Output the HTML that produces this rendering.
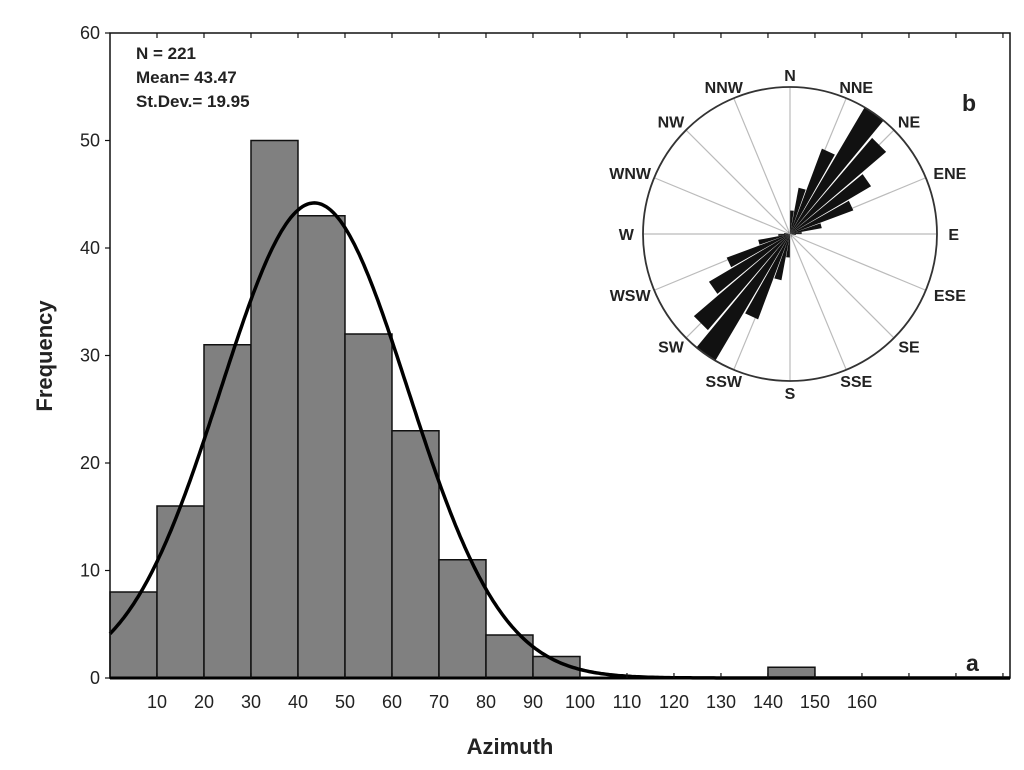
<!DOCTYPE html>
<html><head><meta charset="utf-8"><style>
body{margin:0;background:#fff;}
svg{display:block;font-family:"Liberation Sans",Arial,sans-serif;}
</style></head><body>
<svg id="chart" width="1024" height="770"></svg>
<script>
const binStarts=[0,10,20,30,40,50,60,70,80,90,100,110,120,130,140,150,160,170,180];
const counts=[8,16,31,50,43,32,23,11,4,2,0,0,0,0,1,0,0,0,0];
const xTicks=[10,20,30,40,50,60,70,80,90,100,110,120,130,140,150,160];
const yTicks=[0,10,20,30,40,50,60];
const roseLabels=["N","NNE","NE","ENE","E","ESE","SE","SSE","S","SSW","SW","WSW","W","WNW","NW","NNW"];
const nObs=221, meanVal=43.47, sdVal=19.95;

const NS="http://www.w3.org/2000/svg";
const svg=document.getElementById('chart');
const L=110,R=1010,T=33,B=678,XMAX=191.5,YMAX=60;
const sx=v=>L+(v/XMAX)*(R-L);
const sy=v=>B-(v/YMAX)*(B-T);
function mk(tag,attrs,parent){const e=document.createElementNS(NS,tag);for(const k in attrs)e.setAttribute(k,attrs[k]);(parent||svg).appendChild(e);return e;}

const gb=mk('g',{});


binStarts.forEach((s,i)=>{
  if(counts[i]<=0)return;
  const r=mk('rect',{x:sx(s),y:sy(counts[i]),width:sx(s+10)-sx(s),height:B-sy(counts[i]),fill:'#808080',stroke:'#111','stroke-width':1.5},gb);
  
  
});
let d='';
for(let x=0;x<=XMAX;x+=0.5){
  const y=nObs*10/(sdVal*Math.sqrt(2*Math.PI))*Math.exp(-0.5*Math.pow((x-meanVal)/sdVal,2));
  d+=(x===0?'M':'L')+sx(x).toFixed(1)+','+sy(y).toFixed(1);
}
const c=mk('path',{d:d,fill:'none',stroke:'#000','stroke-width':3.5});


const fr=mk('rect',{x:L,y:T,width:R-L,height:B-T,fill:'none',stroke:'#111','stroke-width':1.5});


mk('line',{x1:L,y1:B,x2:R,y2:B,stroke:'#000','stroke-width':3});
for(let v=10;v<XMAX;v+=10){
  mk('line',{x1:sx(v),y1:B,x2:sx(v),y2:B-5,stroke:'#111','stroke-width':1.2});
  mk('line',{x1:sx(v),y1:T,x2:sx(v),y2:T+5,stroke:'#111','stroke-width':1.2});
}
xTicks.forEach(v=>{
  const t=mk('text',{x:sx(v),y:B+30,'text-anchor':'middle','font-size':18,fill:'#222'});
  t.textContent=v;
  
  
});
yTicks.forEach(v=>{
  mk('line',{x1:L,y1:sy(v),x2:L-5,y2:sy(v),stroke:'#111','stroke-width':1.2});
  const t=mk('text',{x:L-10,y:sy(v)+6,'text-anchor':'end','font-size':18,fill:'#222'});
  t.textContent=v;
  
  
});
const xt=mk('text',{x:510,y:754,'text-anchor':'middle','font-size':22,'font-weight':'bold',fill:'#222'});
xt.textContent='Azimuth';


const yt=mk('text',{x:0,y:0,'text-anchor':'middle','font-size':22,'font-weight':'bold',fill:'#222',transform:'translate(52,356) rotate(-90)'});
yt.textContent='Frequency';


['N = 221','Mean= 43.47','St.Dev.= 19.95'].forEach((s,i)=>{
  const t=mk('text',{x:136,y:59+i*24,'font-size':17,'font-weight':'bold',fill:'#222'});
  t.textContent=s;
  
  
});
const pa=mk('text',{x:966,y:671,'font-size':23,'font-weight':'bold',fill:'#222'});pa.textContent='a';


const pb=mk('text',{x:962,y:111,'font-size':23,'font-weight':'bold',fill:'#222'});pb.textContent='b';



const CX=790,CY=234,RR=147;
const gr=mk('g',{});


for(let k=0;k<16;k++){
  const a=k*22.5*Math.PI/180;
  mk('line',{x1:CX,y1:CY,x2:CX+RR*Math.sin(a),y2:CY-RR*Math.cos(a),stroke:'#bbb','stroke-width':1.2},gr);
  const lr=RR+12;
  const w=roseLabels[k].length*11;
  const t=mk('text',{x:CX+lr*Math.sin(a)+Math.sin(a)*w/2*0.85,y:CY-lr*Math.cos(a)+6,'text-anchor':'middle','font-size':16,'font-weight':'bold',fill:'#222'},gr);
  t.textContent=roseLabels[k];
  
  
}
const maxC=Math.max(...counts);
binStarts.forEach((s,i)=>{
  if(counts[i]<=0)return;
  const r=RR*counts[i]/maxC;
  [0,180].forEach(off=>{
    const a1=(s+off+0.5)*Math.PI/180,a2=(s+off+9.5)*Math.PI/180;
    const p=mk('path',{d:`M${CX},${CY}L${CX+r*Math.sin(a1)},${CY-r*Math.cos(a1)}L${CX+r*Math.sin(a2)},${CY-r*Math.cos(a2)}Z`,fill:'#111'},gr);
    
    
  });
});
mk('circle',{cx:CX,cy:CY,r:RR,fill:'none',stroke:'#333','stroke-width':1.8},gr);
</script>
</body></html>
